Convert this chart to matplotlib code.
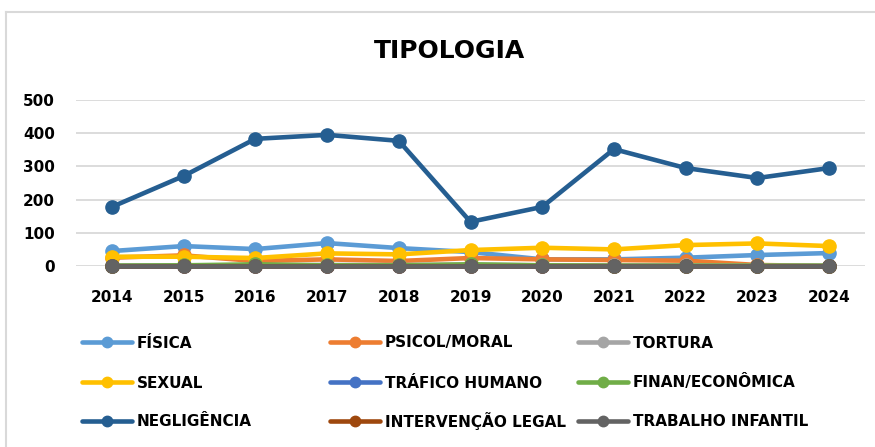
import numpy as np
import matplotlib
matplotlib.use("Agg")
import matplotlib.pyplot as plt
from matplotlib.lines import Line2D

# data
years = ["2014", "2015", "2016", "2017", "2018", "2019", "2020", "2021", "2022", "2023", "2024"]
fisica = [45, 60, 51, 69, 54, 42, 20, 20, 25, 33, 39]
psicol = [25, 32, 15, 20, 15, 24, 20, 18, 16, 3, 0]
tortura = [2, 2, 2, 3, 3, 4, 2, 2, 2, 1, 1]
sexual = [28, 28, 24, 38, 35, 48, 55, 50, 63, 68, 60]
trafico = [0, 0, 0, 0, 0, 0, 0, 0, 0, 0, 0]
finan = [1, 2, 5, 2, 2, 5, 2, 1, 1, 1, 1]
negligencia = [178, 271, 383, 395, 377, 133, 178, 352, 295, 265, 295]
intervencao = [0, 0, 0, 0, 0, 0, 0, 0, 0, 0, 0]
trabalho = [0, 0, 0, 0, 0, 0, 0, 0, 0, 0, 0]

labels = ["FÍSICA", "PSICOL/MORAL", "TORTURA", "SEXUAL", "TRÁFICO HUMANO",
          "FINAN/ECONÔMICA", "NEGLIGÊNCIA", "INTERVENÇÃO LEGAL", "TRABALHO INFANTIL"]
series = [fisica, psicol, tortura, sexual, trafico, finan, negligencia, intervencao, trabalho]
colors = ["#5B9BD5", "#ED7D31", "#A5A5A5", "#FFC000", "#4472C4",
          "#70AD47", "#255E91", "#9E480E", "#636363"]

plt.rcParams["font.family"] = "DejaVu Sans"
plt.rcParams["font.weight"] = "bold"

W, H = 875, 447
fig = plt.figure(figsize=(W / 100, H / 100), dpi=100)
ax = fig.add_axes([76 / W, 1 - 266 / H, (865 - 76) / W, (266 - 100) / H])

x = np.arange(len(years))
for vals, lab, col in zip(series, labels, colors):
    ax.plot(x, vals, color=col, lw=3.3, marker="o", ms=9.5,
            solid_joinstyle="round", label=lab, zorder=3, clip_on=False)

ax.set_xlim(-0.5, len(years) - 0.5)
ax.set_ylim(0, 500)
ax.set_yticks(np.arange(0, 501, 100))
ax.set_xticks(x)
ax.set_xticklabels(years)
ax.tick_params(axis="both", length=0, labelsize=11)
ax.tick_params(axis="y", pad=15)
ax.tick_params(axis="x", pad=17)
for lbl in ax.get_xticklabels() + ax.get_yticklabels():
    lbl.set_fontweight("bold")
ax.grid(axis="y", color="#D9D9D9", lw=1.3, zorder=0)
ax.set_axisbelow(True)
for s in ax.spines.values():
    s.set_visible(False)
ax.patch.set_alpha(0)

fig.text(449 / W, 1 - 51 / H, "TIPOLOGIA", ha="center", va="center",
         fontsize=18, fontweight="bold")

# legend drawn by hand: 3 columns x 3 rows, fixed slots
col_x = [82, 330, 578]
row_y = [342, 382, 421]
for i, (lab, col) in enumerate(zip(labels, colors)):
    r, c = divmod(i, 3)
    x0, y0 = col_x[c], row_y[r]
    fig.add_artist(Line2D([x0 / W, (x0 + 50) / W], [1 - y0 / H] * 2,
                          transform=fig.transFigure, color=col, lw=3.3,
                          solid_capstyle="round"))
    fig.add_artist(Line2D([(x0 + 25) / W], [1 - y0 / H], transform=fig.transFigure,
                          color=col, marker="o", ms=7.5, lw=0))
    fig.text((x0 + 55) / W, 1 - (y0 + 5.5) / H, lab, ha="left", va="baseline",
             fontsize=11, fontweight="bold")

# chart border (top and left visible)
fig.add_artist(Line2D([6 / W, 1.0], [1 - 12 / H, 1 - 12 / H],
                      transform=fig.transFigure, color="#D9D9D9", lw=1.5))
fig.add_artist(Line2D([6 / W, 6 / W], [1 - 12 / H, 0.0],
                      transform=fig.transFigure, color="#D9D9D9", lw=1.5))

fig.savefig("out.png", dpi=100)
